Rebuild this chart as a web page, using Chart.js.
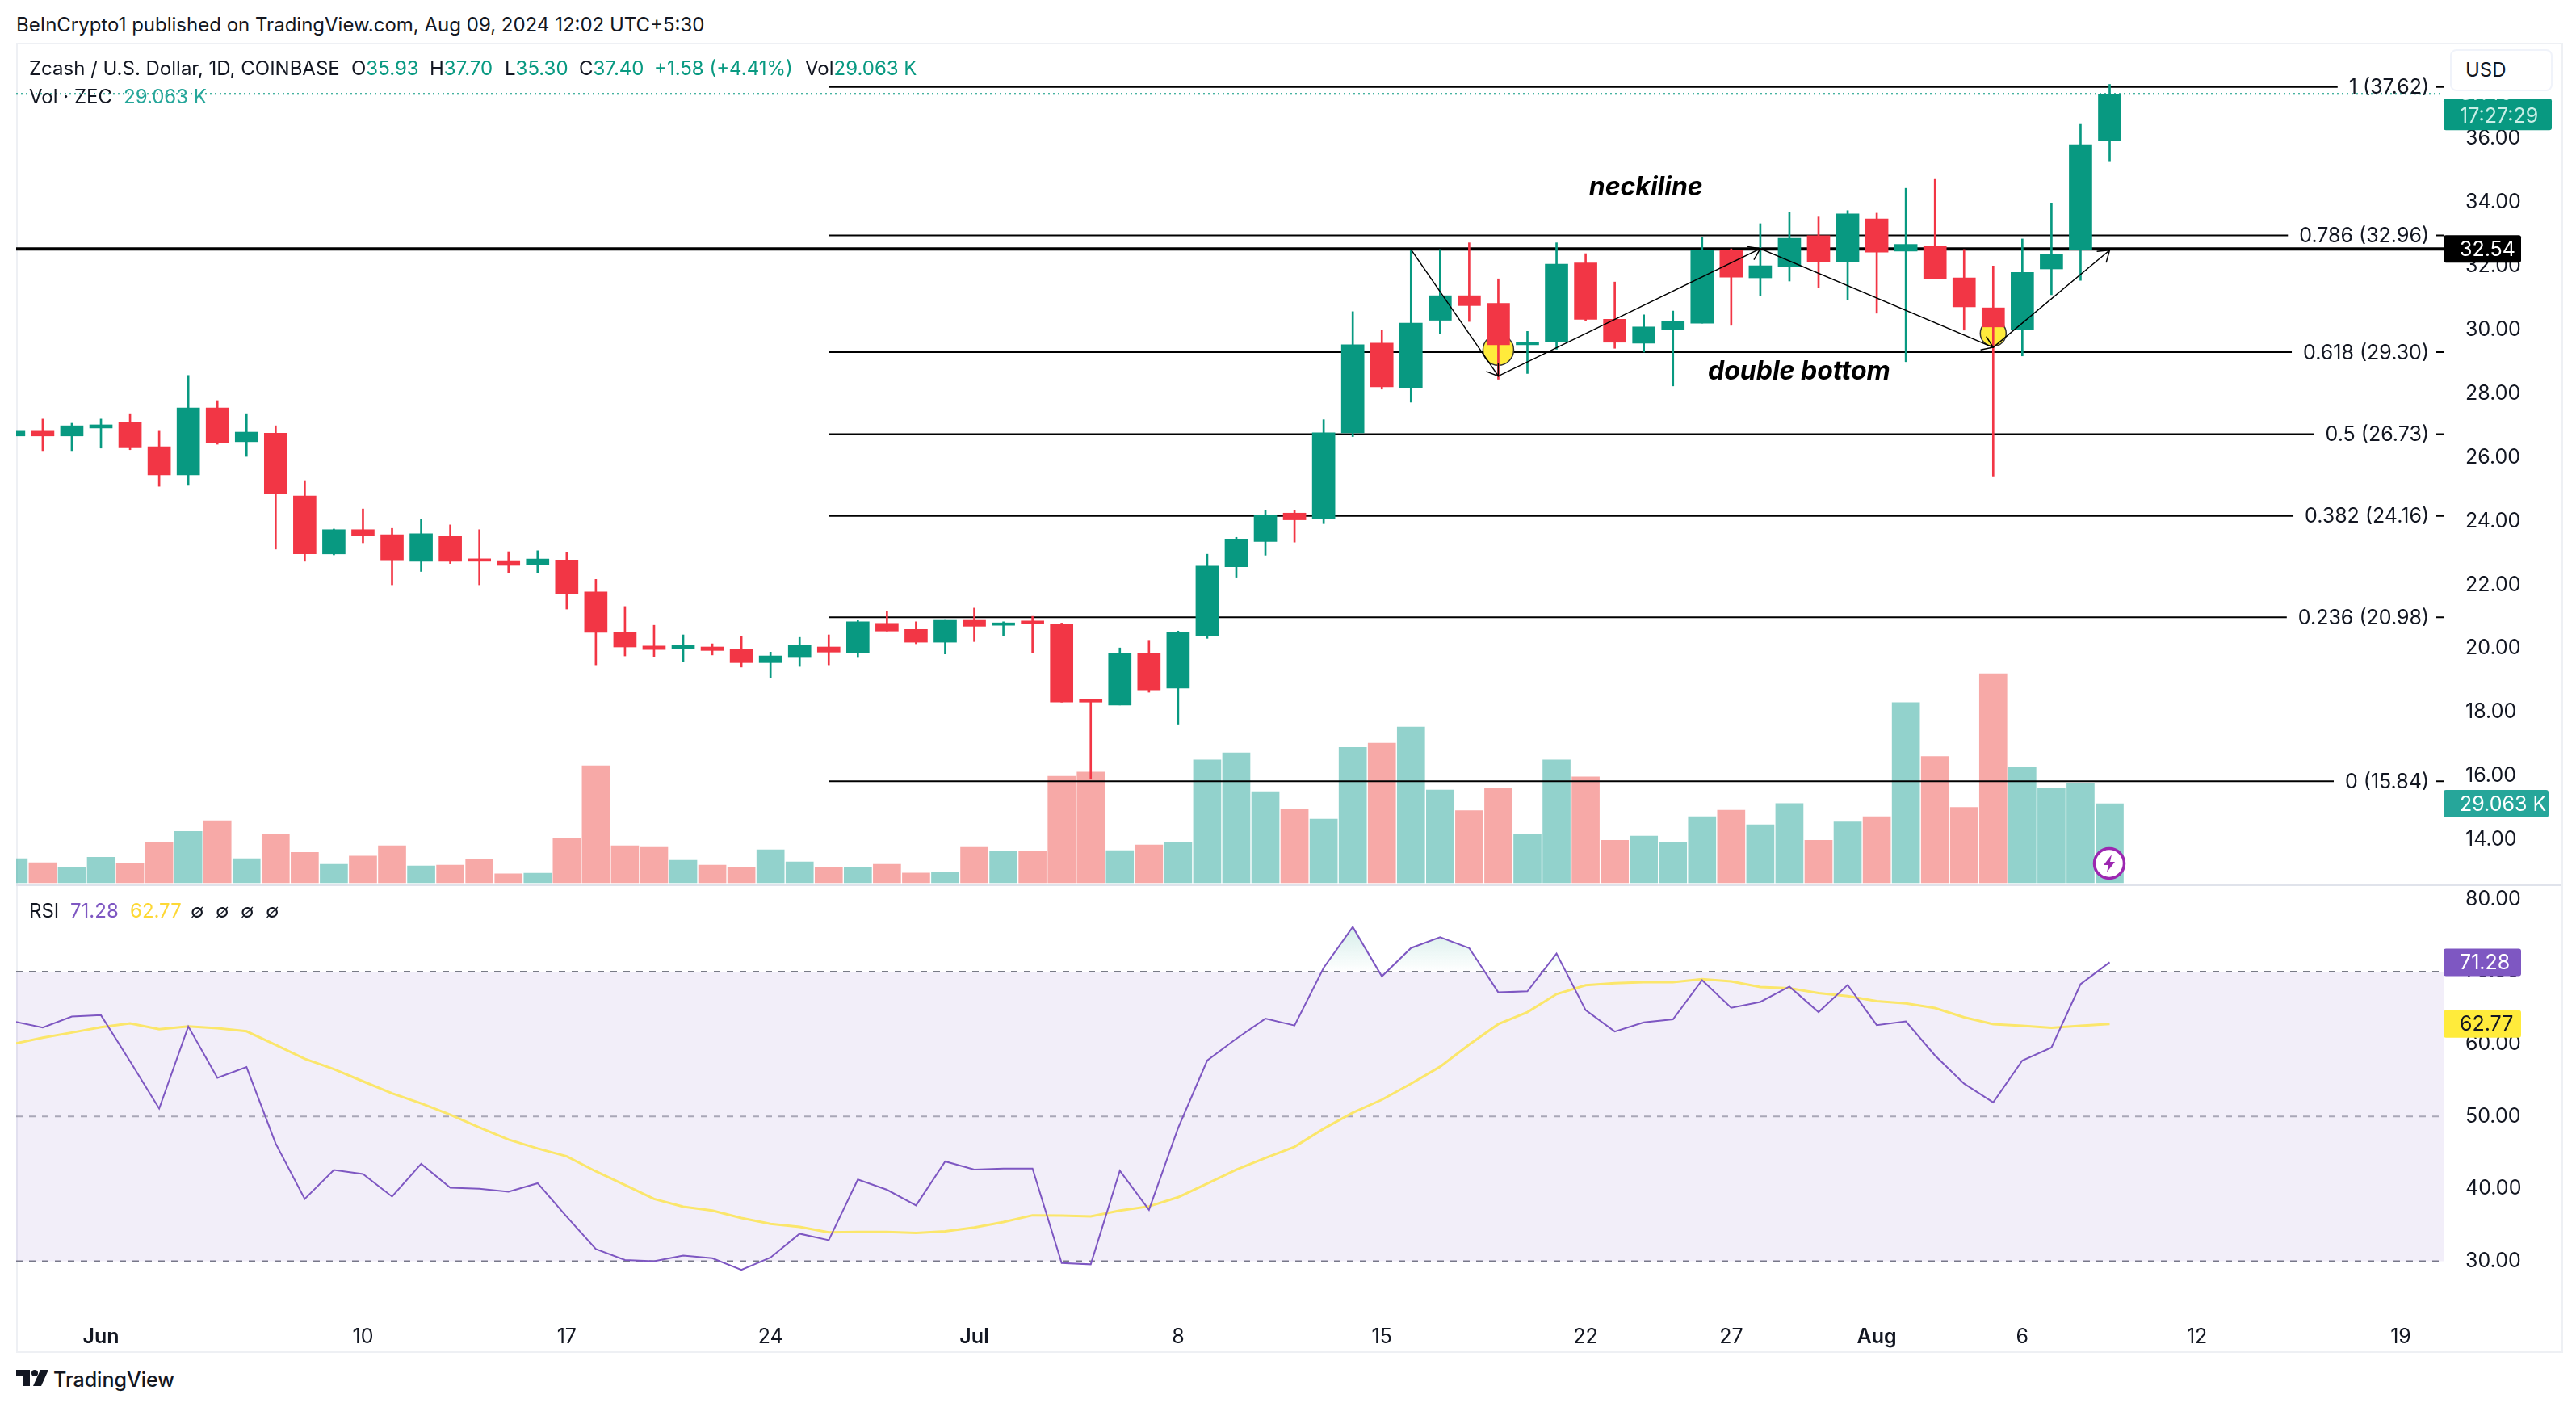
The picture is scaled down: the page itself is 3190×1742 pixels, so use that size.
<!DOCTYPE html>
<html>
<head>
<meta charset="utf-8">
<title>Zcash / U.S. Dollar</title>
<script src="https://cdn.jsdelivr.net/npm/chart.js@4/dist/chart.umd.min.js"></script>
<style>
  html, body { margin: 0; padding: 0; background: #fff; width: 3190px; height: 1742px; overflow: hidden; }
  body { font-family: Inter, "Noto Sans", sans-serif; color: #131722; position: relative; }
  canvas { position: absolute; display: block; }
  #frame { position: absolute; left: 20px; top: 53px; width: 3150px; height: 1618px; border: 2px solid #eef0f4; box-sizing: content-box; }
  #sep { position: absolute; left: 20px; top: 1094px; width: 3152px; height: 3px; background: #e0e3eb; }
  .t { position: absolute; white-space: nowrap; font-size: 24px; line-height: 28px; transform: translateY(-50%); }
  .g { color: #089981; }
  .lg { color: #26a69a; }
  #usd { position: absolute; left: 3034px; top: 61px; width: 127px; height: 52px; background: #fff; border: 2px solid #f0f3fa; border-radius: 8px; box-sizing: border-box; font-size: 24px; line-height: 48px; padding-left: 17px; }
</style>
</head>
<body>
<div id="frame"></div>
<canvas id="priceChart" width="3152" height="1041" style="left:20px;top:54px"></canvas>
<canvas id="rsiChart" width="3152" height="577" style="left:20px;top:1095px"></canvas>
<div id="sep"></div>

<div class="t" style="left:20px;top:31px">BeInCrypto1 published on TradingView.com, Aug 09, 2024 12:02 UTC+5:30</div>
<div class="t" style="left:36px;top:85px">Zcash / U.S. Dollar, 1D, COINBASE</div>
<div class="t" style="left:435px;top:85px">O<span class="g">35.93</span></div>
<div class="t" style="left:532px;top:85px">H<span class="g">37.70</span></div>
<div class="t" style="left:625px;top:85px">L<span class="g">35.30</span></div>
<div class="t" style="left:717px;top:85px">C<span class="g">37.40</span></div>
<div class="t g" style="left:810px;top:85px">+1.58 (+4.41%)</div>
<div class="t" style="left:997px;top:85px">Vol<span class="g">29.063 K</span></div>
<div class="t" style="left:36px;top:120px">Vol · ZEC</div>
<div class="t lg" style="left:153px;top:120px">29.063 K</div>
<div class="t" style="left:36px;top:1128px">RSI</div>
<div class="t" style="left:87px;top:1128px;color:#7e57c2">71.28</div>
<div class="t" style="left:161px;top:1128px;color:#fdd835">62.77</div>
<div class="t" style="left:236px;top:1128px">∅</div>
<div class="t" style="left:267px;top:1128px">∅</div>
<div class="t" style="left:298px;top:1128px">∅</div>
<div class="t" style="left:329px;top:1128px">∅</div>
<div id="usd">USD</div>

<svg style="position:absolute;left:2591px;top:1048px" width="42" height="42" viewBox="0 0 42 42">
  <circle cx="21" cy="21" r="18.5" fill="#fff" stroke="#9c27b0" stroke-width="3.5"/>
  <path d="M24 10 L14 23 H20 L18 32 L28 19 H22 Z" fill="#9c27b0"/>
</svg>

<svg style="position:absolute;left:20px;top:1696px" width="42" height="20" viewBox="0 0 42 20">
  <path d="M0 0 H17 V20 H8 V8 H0 Z M40 0 L31 20 H21 L30 0 Z" fill="#131722"/>
  <circle cx="23" cy="4" r="4" fill="#131722"/>
</svg>
<div class="t" style="left:66px;top:1708px;font-size:25px;font-weight:500">TradingView</div>

<script>
// daily candles, May 29 to Aug 09 2024
const dates = ['May 29','May 30','May 31','Jun 1','Jun 2','Jun 3','Jun 4','Jun 5','Jun 6','Jun 7','Jun 8','Jun 9','Jun 10','Jun 11','Jun 12','Jun 13','Jun 14','Jun 15','Jun 16','Jun 17','Jun 18','Jun 19','Jun 20','Jun 21','Jun 22','Jun 23','Jun 24','Jun 25','Jun 26','Jun 27','Jun 28','Jun 29','Jun 30','Jul 1','Jul 2','Jul 3','Jul 4','Jul 5','Jul 6','Jul 7','Jul 8','Jul 9','Jul 10','Jul 11','Jul 12','Jul 13','Jul 14','Jul 15','Jul 16','Jul 17','Jul 18','Jul 19','Jul 20','Jul 21','Jul 22','Jul 23','Jul 24','Jul 25','Jul 26','Jul 27','Jul 28','Jul 29','Jul 30','Jul 31','Aug 1','Aug 2','Aug 3','Aug 4','Aug 5','Aug 6','Aug 7','Aug 8','Aug 9'];

const opens = [26.67,26.82,26.67,26.92,27.10,26.33,25.45,27.55,26.49,26.76,24.79,22.97,23.73,23.57,22.74,23.52,22.78,22.76,22.63,22.78,21.78,20.50,20.08,20.00,20.05,19.97,19.56,19.72,20.05,19.86,20.79,20.60,20.20,20.91,20.73,20.84,20.75,18.36,18.23,19.84,18.76,20.41,22.57,23.36,24.25,24.08,26.77,29.58,28.17,30.30,31.07,30.83,29.53,29.63,32.10,30.33,29.58,30.01,30.21,32.51,31.63,31.99,32.95,32.13,33.48,32.47,32.63,31.63,30.69,30.01,31.91,32.51,35.93];
const highs = [26.85,27.20,27.07,27.20,27.37,26.82,28.57,27.78,27.37,26.99,25.27,23.75,24.38,23.77,24.05,23.88,23.73,23.04,23.07,23.02,22.17,21.32,20.73,20.43,20.15,20.38,19.89,20.35,20.43,20.90,21.18,20.84,20.91,21.27,20.84,21.01,20.80,18.36,20.02,20.26,20.55,22.96,23.49,24.33,24.33,27.18,30.57,29.99,32.50,32.52,32.73,31.60,29.95,32.73,32.39,31.50,30.47,30.59,32.90,32.54,33.33,33.69,33.54,33.74,33.66,34.44,34.72,32.52,32.00,32.85,33.98,36.47,37.70];
const lows = [26.65,26.21,26.21,26.29,26.24,25.09,25.12,26.41,26.03,23.12,22.74,22.94,23.32,22.00,22.42,22.67,22.00,22.38,22.38,21.24,19.49,19.77,19.75,19.59,19.80,19.42,19.09,19.44,19.49,19.72,20.55,20.15,19.83,20.22,20.41,19.88,18.32,15.90,18.23,18.63,17.63,20.32,22.24,22.93,23.34,23.92,26.65,28.14,27.73,29.89,30.26,28.45,28.63,29.39,30.28,29.42,29.30,28.24,30.21,30.14,31.07,31.53,31.31,30.95,30.52,29.00,31.60,29.99,25.41,29.18,31.10,31.55,35.30];
const closes = [26.82,26.67,26.99,27.02,26.30,25.45,27.55,26.47,26.79,24.85,22.97,23.73,23.55,22.78,23.60,22.74,22.74,22.61,22.81,21.72,20.51,20.05,19.97,20.10,19.94,19.56,19.77,20.10,19.89,20.84,20.55,20.20,20.91,20.70,20.80,20.79,18.32,18.32,19.84,18.70,20.51,22.59,23.44,24.20,24.04,26.77,29.53,28.21,30.21,31.07,30.76,29.53,29.60,32.06,30.33,29.61,30.09,30.26,32.51,31.65,32.01,32.87,32.13,33.64,32.44,32.68,31.60,30.72,30.09,31.80,32.37,35.81,37.40];
const volumes = [8.9,7.4,5.6,9.4,7.2,14.7,18.9,22.8,8.9,17.8,11.2,6.8,9.8,13.6,6.2,6.5,8.6,3.3,3.5,16.3,43.0,13.6,13.0,8.3,6.5,5.6,12.1,7.7,5.6,5.6,6.8,3.6,3.8,13.0,11.7,11.7,39.1,40.7,11.8,13.9,14.9,45.1,47.7,33.5,27.1,23.4,49.7,51.3,57.2,34.1,26.5,34.9,17.9,45.1,38.9,15.6,17.2,14.9,24.3,26.7,21.3,29.1,15.6,22.4,24.3,66.2,46.4,27.7,76.8,42.3,34.9,36.7,29.063];

const rsiValues = [63.13,62.28,63.79,63.98,57.60,51.08,62.42,55.32,56.82,46.28,38.61,42.61,42.05,38.94,43.46,40.16,40.02,39.60,40.78,36.16,31.69,30.19,30.00,30.80,30.42,28.82,30.52,33.81,32.92,41.29,39.88,37.72,43.79,42.66,42.80,42.80,29.76,29.58,42.52,37.11,48.40,57.72,60.73,63.51,62.56,70.52,76.16,69.34,73.25,74.75,73.25,67.13,67.27,72.49,64.68,61.72,62.99,63.41,68.82,65.01,65.81,67.93,64.40,68.16,62.61,63.13,58.42,54.52,51.93,57.72,59.51,68.26,71.28];
const rsiMa = [60.02,60.87,61.58,62.33,62.85,62.05,62.42,62.19,61.76,59.88,57.95,56.54,54.85,53.20,51.79,50.24,48.49,46.80,45.58,44.49,42.42,40.54,38.61,37.53,37.01,35.98,35.18,34.75,34.00,34.05,34.05,33.91,34.14,34.66,35.41,36.35,36.31,36.21,37.01,37.58,38.85,40.73,42.66,44.26,45.81,48.31,50.52,52.31,54.52,56.87,59.93,62.75,64.40,66.89,68.12,68.40,68.54,68.54,68.96,68.64,67.88,67.69,67.04,66.61,65.91,65.62,64.96,63.69,62.75,62.52,62.24,62.52,62.77];

const fibRatios = ['1','0.786','0.618','0.5','0.382','0.236','0'];
const fibPrices = [37.62,32.96,29.30,26.73,24.16,20.98,15.84];
const fibStart = 28;
const neckPrice = 32.54;
const lastClose = 37.40;
const lastVolume = 29.063;

// drawn double bottom, in candle index and price
const patternX = [48,51,60,68,72];
const patternY = [32.52,28.55,32.55,29.45,32.50];
const bottomX = [51,68];
const bottomY = [29.37,29.89];
const bottomR = [19,16];

const noteTexts = ['neckiline','double bottom'];
const noteX = [56.07,61.33];
const noteY = [34.47,28.67];

const priceTicks = [14,16,18,20,22,24,26,28,30,32,34,36];
const rsiTicks = [30,40,50,60,70,80];
const rsiLevels = [70,50,30];
const timeTickPos = [3,12,19,26,33,40,47,54,59,64,69,75,82];
const timeTickLabels = ['Jun','10','17','24','Jul','8','15','22','27','Aug','6','12','19'];

// visible range of the panes
const xMin = 0.087, xMax = 83.47;
const priceMin = 12.60, priceMax = 38.98;
const volMin = -0.6, volMax = 308.2;
const rsiMin = 24.38, rsiMax = 82.03;

const GREEN = '#089981', RED = '#f23645';
const TEXT = '#131722';
const AXIS_FONT = { family: 'Inter', size: 25 };

var candleColors = closes.map(function(c, i) { return c >= opens[i] ? GREEN : RED; });
var volumeColors = closes.map(function(c, i) { return c >= opens[i] ? 'rgba(38,166,154,0.5)' : 'rgba(239,83,80,0.5)'; });

function hline(v, from) {
  return [{ x: from === undefined ? xMin : from, y: v }, { x: xMax, y: v }];
}

// value axis with a fixed width, and no extra room asked for the labels
function fitAxis(scale) {
  scale.width = 146;
  scale.paddingTop = 0;
  scale.paddingBottom = 0;
  scale._margins.top = 0;
  scale._margins.bottom = 0;
}

function axisTag(ctx, x, top, w, h, bg, lines) {
  ctx.save();
  ctx.beginPath();
  ctx.roundRect(x, top, w, h, 3);
  ctx.fillStyle = bg;
  ctx.fill();
  ctx.clip();
  ctx.font = '25px Inter';
  ctx.textAlign = 'left';
  ctx.textBaseline = 'middle';
  lines.forEach(function(l) {
    ctx.fillStyle = l.color;
    ctx.fillText(l.text, x + 20, l.y);
  });
  ctx.restore();
}

var priceOverlay = {
  id: 'priceOverlay',
  afterDraw: function(chart) {
    var ctx = chart.ctx, x = chart.scales.x, y = chart.scales.y, vol = chart.scales.vol;
    var right = chart.chartArea.right;
    ctx.save();

    // fib labels sit on the line, which shows again just before the axis
    ctx.font = '25px Inter';
    ctx.textBaseline = 'middle';
    fibRatios.forEach(function(r, i) {
      var label = r + ' (' + fibPrices[i].toFixed(2) + ')';
      var w = ctx.measureText(label).width;
      var py = y.getPixelForValue(fibPrices[i]);
      ctx.fillStyle = '#fff';
      ctx.fillRect(right - 18 - w - 14, py - 4, w + 14 + 9, 8);
      ctx.fillStyle = TEXT;
      ctx.textAlign = 'right';
      ctx.fillText(label, right - 18, py + 1);
    });

    // arrow heads of the drawn pattern
    ctx.strokeStyle = '#000';
    ctx.lineWidth = 1.5;
    for (var i = 1; i < patternX.length; i++) {
      var px = x.getPixelForValue(patternX[i]), py2 = y.getPixelForValue(patternY[i]);
      var a = Math.atan2(py2 - y.getPixelForValue(patternY[i - 1]), px - x.getPixelForValue(patternX[i - 1]));
      ctx.beginPath();
      ctx.moveTo(px - 16 * Math.cos(a - 0.6), py2 - 16 * Math.sin(a - 0.6));
      ctx.lineTo(px, py2);
      ctx.lineTo(px - 16 * Math.cos(a + 0.6), py2 - 16 * Math.sin(a + 0.6));
      ctx.stroke();
    }

    ctx.fillStyle = '#000';
    ctx.font = 'italic 700 32px Inter';
    ctx.textAlign = 'center';
    noteTexts.forEach(function(t, i) {
      ctx.fillText(t, x.getPixelForValue(noteX[i]), y.getPixelForValue(noteY[i]));
    });

    // last price tag is cut off at the top by the currency button
    var cy = y.getPixelForValue(lastClose);
    axisTag(ctx, right, cy + 6, 134, 39, GREEN, [
      { text: lastClose.toFixed(2), color: '#c9eee6', y: cy },
      { text: '17:27:29', color: '#c9eee6', y: cy + 28 }
    ]);
    var ny = y.getPixelForValue(neckPrice);
    axisTag(ctx, right, ny - 17, 96, 34, '#000', [{ text: neckPrice.toFixed(2), color: '#fff', y: ny + 1 }]);
    var vy = vol.getPixelForValue(lastVolume);
    axisTag(ctx, right, vy - 17, 130, 34, '#26a69a', [{ text: lastVolume.toFixed(3) + ' K', color: '#fff', y: vy + 1 }]);
    ctx.restore();
  }
};

var rsiOverlay = {
  id: 'rsiOverlay',
  afterDraw: function(chart) {
    var ctx = chart.ctx, y = chart.scales.y, right = chart.chartArea.right;
    var last = rsiValues[rsiValues.length - 1], lastMa = rsiMa[rsiMa.length - 1];
    ctx.save();
    var py = y.getPixelForValue(last);
    axisTag(ctx, right, py - 17, 96, 34, '#7e57c2', [{ text: last.toFixed(2), color: '#fff', y: py + 1 }]);
    var my = y.getPixelForValue(lastMa);
    axisTag(ctx, right, my - 17, 96, 34, '#ffeb3b', [{ text: lastMa.toFixed(2), color: TEXT, y: my + 1 }]);
    ctx.restore();
  }
};

var priceChart = new Chart(document.getElementById('priceChart'), {
  type: 'bar',
  data: {
    datasets: [
      {
        label: 'Vol',
        yAxisID: 'vol',
        order: 10,
        data: volumes.map(function(v, i) { return { x: i, y: v }; }),
        backgroundColor: volumeColors,
        barThickness: 34,
        grouped: false
      },
      {
        type: 'line',
        label: 'last',
        order: 9,
        data: hline(lastClose),
        borderColor: GREEN,
        borderWidth: 2,
        borderDash: [2, 4],
        pointRadius: 0
      },
      {
        type: 'line',
        label: 'neckline',
        order: 8,
        data: hline(neckPrice),
        borderColor: '#000',
        borderWidth: 4,
        pointRadius: 0
      },
    ].concat(fibPrices.map(function(p) {
      return {
        type: 'line',
        label: 'fib ' + p,
        order: 8,
        data: hline(p, fibStart),
        borderColor: '#000',
        borderWidth: 2,
        pointRadius: 0
      };
    })).concat([
      {
        type: 'line',
        label: 'bottoms',
        order: 7,
        data: bottomX.map(function(x, i) { return { x: x, y: bottomY[i] }; }),
        showLine: false,
        pointRadius: bottomR,
        pointBackgroundColor: '#ffeb3b',
        pointBorderColor: '#333',
        pointBorderWidth: 1.5
      },
      {
        label: 'wick',
        order: 6,
        data: highs.map(function(h, i) { return { x: i, y: [lows[i], h] }; }),
        backgroundColor: candleColors,
        barThickness: 2,
        grouped: false
      },
      {
        label: 'body',
        order: 5,
        data: opens.map(function(o, i) { return { x: i, y: [o, closes[i]] }; }),
        backgroundColor: candleColors,
        barThickness: 28,
        minBarLength: 3,
        grouped: false
      },
      {
        type: 'line',
        label: 'pattern',
        order: 4,
        data: patternX.map(function(x, i) { return { x: x, y: patternY[i] }; }),
        borderColor: '#000',
        borderWidth: 1.5,
        pointRadius: 0,
        tension: 0
      }
    ])
  },
  options: {
    responsive: false,
    animation: false,
    devicePixelRatio: 1,
    layout: { padding: 0, autoPadding: false },
    plugins: { legend: { display: false }, tooltip: { enabled: false } },
    scales: {
      x: { type: 'linear', min: xMin, max: xMax, offset: false, display: false },
      y: {
        position: 'right',
        min: priceMin,
        max: priceMax,
        grid: { display: false },
        border: { display: false },
        afterBuildTicks: function(s) { s.ticks = priceTicks.map(function(v) { return { value: v }; }); },
        afterFit: fitAxis,
        ticks: {
          padding: 19,
          color: TEXT,
          font: AXIS_FONT,
          callback: function(v) { return v.toFixed(2); }
        }
      },
      vol: { min: volMin, max: volMax, display: false }
    }
  },
  plugins: [priceOverlay]
});

var rsiChart = new Chart(document.getElementById('rsiChart'), {
  type: 'line',
  data: {
    datasets: rsiLevels.map(function(v) {
      return {
        label: 'level ' + v,
        order: 5,
        data: hline(v),
        borderColor: v === 50 ? 'rgba(120,123,134,0.6)' : '#787b86',
        borderWidth: 2,
        borderDash: [8, 8],
        pointRadius: 0,
        fill: v === 70 ? { target: { value: 30 }, above: 'rgba(126,87,194,0.1)', below: 'rgba(126,87,194,0.1)' } : false
      };
    }).concat([
      {
        label: 'RSI',
        order: 2,
        data: rsiValues.map(function(v, i) { return { x: i, y: v }; }),
        borderColor: '#7e57c2',
        borderWidth: 2,
        pointRadius: 0,
        tension: 0,
        fill: { target: { value: 70 }, above: 'rgba(8,153,129,0.08)', below: 'rgba(0,0,0,0)' }
      },
      {
        label: 'RSI MA',
        order: 3,
        data: rsiMa.map(function(v, i) { return { x: i, y: v }; }),
        borderColor: '#fbe66b',
        borderWidth: 3,
        pointRadius: 0,
        tension: 0
      }
    ])
  },
  options: {
    responsive: false,
    animation: false,
    devicePixelRatio: 1,
    layout: { padding: 0, autoPadding: false },
    plugins: { legend: { display: false }, tooltip: { enabled: false } },
    scales: {
      x: {
        type: 'linear',
        min: xMin,
        max: xMax,
        grid: { display: false },
        border: { display: false },
        afterBuildTicks: function(s) { s.ticks = timeTickPos.map(function(v) { return { value: v }; }); },
        afterFit: function(s) {
          s.height = 60;
          s.paddingLeft = 0;
          s.paddingRight = 0;
          s._margins.left = 0;
          s._margins.right = 0;
        },
        ticks: {
          autoSkip: false,
          maxRotation: 0,
          padding: 20,
          color: TEXT,
          font: function(c) {
            var l = c.tick ? timeTickLabels[timeTickPos.indexOf(c.tick.value)] : '0';
            return { family: 'Inter', size: 25, weight: isNaN(l) ? '600' : '400' };
          },
          callback: function(v) { return timeTickLabels[timeTickPos.indexOf(v)]; }
        }
      },
      y: {
        position: 'right',
        min: rsiMin,
        max: rsiMax,
        grid: { display: false },
        border: { display: false },
        afterBuildTicks: function(s) { s.ticks = rsiTicks.map(function(v) { return { value: v }; }); },
        afterFit: fitAxis,
        ticks: {
          padding: 19,
          color: TEXT,
          font: AXIS_FONT,
          callback: function(v) { return v.toFixed(2); }
        }
      }
    }
  },
  plugins: [rsiOverlay]
});

// overbought shading fades out towards the 70 line
var rsiY = rsiChart.scales.y;
var glow = rsiChart.ctx.createLinearGradient(0, rsiY.getPixelForValue(78), 0, rsiY.getPixelForValue(70));
glow.addColorStop(0, 'rgba(8,153,129,0.22)');
glow.addColorStop(1, 'rgba(8,153,129,0)');
rsiChart.data.datasets[3].fill.above = glow;
rsiChart.update('none');
</script>
</body>
</html>
